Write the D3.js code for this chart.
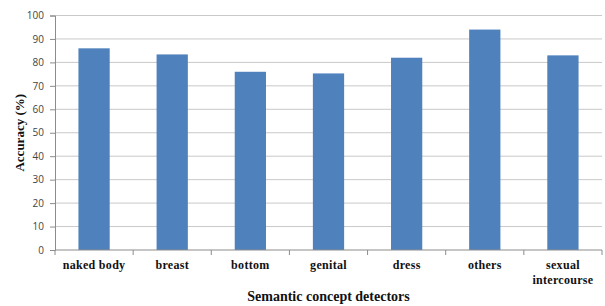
<!DOCTYPE html>
<html>
<head>
<meta charset="utf-8">
<script src="https://cdn.jsdelivr.net/npm/d3@7"></script>
<style>
  body { margin: 0; background: #fff; }
  .cat-label { font-family: "Liberation Serif", "DejaVu Serif", serif; font-weight: bold; font-size: 12px; letter-spacing: 0.3px; fill: #111; }
  .axis-title { font-family: "Liberation Serif", "DejaVu Serif", serif; font-weight: bold; fill: #111; }
  .y-axis text { font-family: "Open Sans", "DejaVu Sans", sans-serif; font-size: 10px; fill: #444; }
</style>
</head>
<body>
<svg id="chart"></svg>
<script>
// chart values
const categories = ["naked body", "breast", "bottom", "genital", "dress", "others", "sexual intercourse"];
const accuracy = [86, 83.4, 76, 75.3, 82, 94, 83];
const yTicks = [0, 10, 20, 30, 40, 50, 60, 70, 80, 90, 100];

const width = 605, height = 306;
const margin = {top: 15.5, right: 3, bottom: 56, left: 55};
const innerW = width - margin.left - margin.right;
const innerH = height - margin.top - margin.bottom;

const svg = d3.select("#chart")
    .attr("width", width)
    .attr("height", height);

const chart = svg.append("g")
    .attr("transform", `translate(${margin.left},${margin.top})`);

const xScale = d3.scaleBand()
    .domain(categories)
    .range([0, innerW])
    .paddingInner(0.6)
    .paddingOuter(0.3);

const yScale = d3.scaleLinear()
    .domain([0, 100])
    .range([innerH, 0]);

// gridlines
chart.append("g")
  .selectAll("line")
  .data(yTicks.filter(d => d > 0))
  .join("line")
    .attr("x1", 0)
    .attr("x2", innerW)
    .attr("y1", d => yScale(d))
    .attr("y2", d => yScale(d))
    .attr("stroke", "#c9c9c9")
    .attr("stroke-width", 1);

// y axis
const yAxisG = chart.append("g")
    .attr("class", "y-axis")
    .call(d3.axisLeft(yScale).tickValues(yTicks).tickSize(5).tickPadding(6));
yAxisG.select(".domain").attr("stroke", "#8c8c8c");
yAxisG.selectAll(".tick line").attr("stroke", "#8c8c8c");

// bars
chart.selectAll("rect.bar")
  .data(accuracy)
  .join("rect")
    .attr("class", "bar")
    .attr("x", (d, i) => xScale(categories[i]))
    .attr("y", d => yScale(d))
    .attr("width", xScale.bandwidth())
    .attr("height", d => innerH - yScale(d))
    .attr("fill", "#4f81bd");

// x axis line and boundary ticks
const step = xScale.step();
const xAxisG = chart.append("g").attr("transform", `translate(0,${innerH})`);
xAxisG.append("line")
    .attr("x1", 0).attr("x2", innerW)
    .attr("stroke", "#8c8c8c");
xAxisG.selectAll("line.tk")
  .data(d3.range(categories.length + 1))
  .join("line")
    .attr("class", "tk")
    .attr("x1", i => i * step)
    .attr("x2", i => i * step)
    .attr("y1", 0).attr("y2", 5)
    .attr("stroke", "#8c8c8c");

// category labels (wrap the long one)
categories.forEach((c, i) => {
  const cx = xScale(c) + xScale.bandwidth() / 2;
  const lines = c === "sexual intercourse" ? ["sexual", "intercourse"] : [c];
  const t = xAxisG.append("text")
      .attr("class", "cat-label")
      .attr("text-anchor", "middle")
      .attr("x", cx)
      .attr("y", 19);
  lines.forEach((l, k) => {
    t.append("tspan").attr("x", cx).attr("dy", k === 0 ? 0 : 15).text(l);
  });
});

// axis titles
svg.append("text")
    .attr("class", "axis-title")
    .attr("x", margin.left + innerW / 2)
    .attr("y", 301)
    .attr("text-anchor", "middle")
    .style("font-size", "14px")
    .text("Semantic concept detectors");

svg.append("text")
    .attr("class", "axis-title")
    .attr("transform", `translate(24,${margin.top + innerH / 2}) rotate(-90)`)
    .attr("text-anchor", "middle")
    .style("font-size", "13px")
    .text("Accuracy (%)");
</script>
</body>
</html>
